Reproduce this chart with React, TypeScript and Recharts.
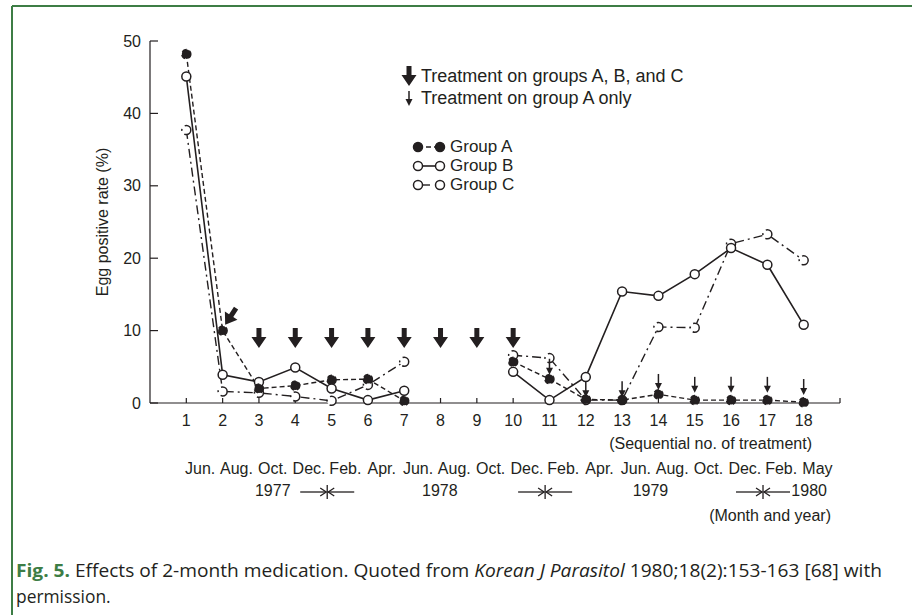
import React from "react";
import { ComposedChart, Line, Scatter, XAxis, YAxis } from "recharts";

// 治療回次ごとの虫卵陽性率 (%) — 8, 9 回目は欠測
const treatmentNo = [1, 2, 3, 4, 5, 6, 7, 8, 9, 10, 11, 12, 13, 14, 15, 16, 17, 18];
const groupA = [48.2, 10.0, 2.0, 2.4, 3.2, 3.3, 0.3, null, null, 5.7, 3.3, 0.5, 0.4, 1.2, 0.4, 0.4, 0.4, 0.1];
const groupB = [45.1, 3.9, 2.9, 4.9, 2.0, 0.4, 1.7, null, null, 4.3, 0.4, 3.6, 15.4, 14.8, 17.8, 21.4, 19.1, 10.8];
const groupC = [37.7, 1.6, 1.4, 0.9, 0.3, 2.5, 5.7, null, null, 6.6, 6.2, 0.4, 0.4, 10.5, 10.4, 22.0, 23.3, 19.7];

const yTicks = [0, 10, 20, 30, 40, 50];
const xTicks = [...treatmentNo, 19];

const monthLabels = [
  "Jun.", "Aug.", "Oct.", "Dec.", "Feb.", "Apr.", "Jun.", "Aug.", "Oct.",
  "Dec.", "Feb.", "Apr.", "Jun.", "Aug.", "Oct.", "Dec.", "Feb.", "May",
];
const MONTH_SHIFT = 0.38;
const yearLabels = ["1977", "1978", "1979", "1980"];
const yearPos = [3.38, 7.98, 13.78, 18.15];
const yearBreakPos = [4.88, 10.88, 16.88];

// 矢印 (治療)
const bigArrowNo = [3, 4, 5, 6, 7, 8, 9, 10];
const bigArrowTip = 7.6;
const tiltArrow = [{ x: 2.07, y: 10.8 }];
const smallArrowNo = [11, 12, 13, 14, 15, 16, 17, 18];
const smallArrowTip = [3.9, 0.8, 0.8, 1.8, 1.4, 1.4, 1.4, 1.1];

const FONT = '"Liberation Sans", Arial, Helvetica, sans-serif';
const INK = "#231f20";
const GREEN = "#3d7d45";

const data = treatmentNo.map((n, i) => ({ x: n, a: groupA[i], b: groupB[i], c: groupC[i] }));
const bigArrowData = bigArrowNo.map((n) => ({ x: n, y: bigArrowTip }));
const smallArrowData = smallArrowNo.map((n, i) => ({ x: n, y: smallArrowTip[i] }));

const bigArrowPath = (cx: number, cy: number) =>
  `M${cx - 2.5},${cy - 20} h5 v9 h5 L${cx},${cy} L${cx - 7.5},${cy - 11} h5 Z`;

const BigArrow = (p: any) =>
  p.cx == null ? null : <path d={bigArrowPath(p.cx, p.cy)} fill={INK} />;

const TiltArrow = (p: any) =>
  p.cx == null ? null : (
    <path d={bigArrowPath(p.cx, p.cy)} fill={INK} transform={`rotate(33 ${p.cx} ${p.cy})`} />
  );

const SmallArrow = (p: any) => {
  if (p.cx == null) return null;
  const { cx, cy } = p;
  return (
    <g>
      <line x1={cx} y1={cy - 16} x2={cx} y2={cy - 6} stroke={INK} strokeWidth={1.5} />
      <path d={`M${cx - 3.5},${cy - 7} L${cx + 3.5},${cy - 7} L${cx},${cy} Z`} fill={INK} />
    </g>
  );
};

const dot = (fill: string) => ({ r: 4.5, fill, stroke: INK, strokeWidth: 1.5 });

const YearTick = (p: any) => {
  const { x, y, payload } = p;
  const v = payload.value;
  if (yearBreakPos.indexOf(v) >= 0) {
    const cy = y + 7;
    return (
      <g stroke={INK} strokeWidth={1.3} fill="none">
        <line x1={x - 27} y1={cy} x2={x - 1} y2={cy} />
        <polyline points={`${x - 7},${cy - 4} ${x - 1},${cy} ${x - 7},${cy + 4}`} />
        <line x1={x} y1={cy - 7} x2={x} y2={cy + 7} />
        <line x1={x + 1} y1={cy} x2={x + 27} y2={cy} />
        <polyline points={`${x + 7},${cy - 4} ${x + 1},${cy} ${x + 7},${cy + 4}`} />
      </g>
    );
  }
  const label = yearLabels[yearPos.indexOf(v)];
  return (
    <text x={x} y={y} dy="0.71em" textAnchor="middle" fill={INK} fontSize={16} fontFamily={FONT}>
      {label}
    </text>
  );
};

const tickStyle = { fontSize: 16, fill: INK, fontFamily: FONT };

export default function App() {
  return (
    <div style={{ position: "fixed", left: 0, top: 0, width: 912, height: 615, background: "#fff" }}>
      <svg width={912} height={615} style={{ position: "absolute", left: 0, top: 0 }}>
        <line x1={12} y1={6} x2={912} y2={6} stroke={GREEN} strokeWidth={2} />
        <line x1={12} y1={6} x2={12} y2={615} stroke={GREEN} strokeWidth={2} />
        <text
          x={16}
          y={577}
          fontFamily='"Open Sans", sans-serif'
          fontSize={17.4}
          fill={INK}
          textLength={866}
          lengthAdjust="spacingAndGlyphs"
        >
          <tspan fontWeight={700} fill={GREEN}>Fig. 5.</tspan> Effects of 2-month medication. Quoted from{" "}
          <tspan fontStyle="italic">Korean J Parasitol</tspan> 1980;18(2):153-163 [68] with
        </text>
        <text x={16} y={603} fontFamily='"Open Sans", sans-serif' fontSize={17.4} fill={INK}>
          permission.
        </text>
      </svg>

      <div style={{ position: "absolute", left: 0, top: 0 }}>
        <ComposedChart
          width={912}
          height={540}
          data={data}
          margin={{ top: 41, right: 72, bottom: 11, left: 90 }}
        >
          <XAxis
            type="number"
            dataKey="x"
            domain={[0, 19]}
            ticks={xTicks}
            interval={0}
            tickFormatter={(v) => (v === 19 ? "" : String(v))}
            tick={tickStyle}
            tickSize={-5}
            tickMargin={17}
            height={52}
            axisLine={{ stroke: INK, strokeWidth: 1.2 }}
            tickLine={{ stroke: INK, strokeWidth: 1.2 }}
            label={(p: any) => (
              <text
                x={p.viewBox.x + p.viewBox.width - 28}
                y={p.viewBox.y + 46}
                textAnchor="end"
                fontSize={16}
                fontFamily={FONT}
                fill={INK}
              >
                (Sequential no. of treatment)
              </text>
            )}
          />
          <XAxis
            xAxisId="months"
            type="number"
            dataKey="x"
            domain={[0, 19]}
            allowDataOverflow
            ticks={treatmentNo.map((n) => n + MONTH_SHIFT)}
            interval={0}
            tickFormatter={(v) => monthLabels[Math.round(v - MONTH_SHIFT) - 1]}
            tick={tickStyle}
            tickSize={0}
            tickMargin={8}
            tickLine={false}
            axisLine={false}
            height={24}
          />
          <XAxis
            xAxisId="years"
            type="number"
            dataKey="x"
            domain={[0, 19]}
            allowDataOverflow
            ticks={[...yearPos, ...yearBreakPos]}
            interval={0}
            tick={<YearTick />}
            tickSize={0}
            tickMargin={6}
            tickLine={false}
            axisLine={false}
            height={50}
            label={(p: any) => (
              <text
                x={p.viewBox.x + p.viewBox.width - 9}
                y={p.viewBox.y + 42}
                textAnchor="end"
                fontSize={16}
                fontFamily={FONT}
                fill={INK}
              >
                (Month and year)
              </text>
            )}
          />
          <YAxis
            type="number"
            dataKey="y"
            domain={[0, 50]}
            ticks={yTicks}
            interval={0}
            width={60}
            tick={tickStyle}
            tickSize={-8}
            tickMargin={17}
            axisLine={{ stroke: INK, strokeWidth: 1.2 }}
            tickLine={{ stroke: INK, strokeWidth: 1.2 }}
            label={(p: any) => (
              <text
                x={p.viewBox.x + 12}
                y={p.viewBox.y + p.viewBox.height / 2}
                transform={`rotate(-90 ${p.viewBox.x + 12} ${p.viewBox.y + p.viewBox.height / 2})`}
                textAnchor="middle"
                dominantBaseline="central"
                fontSize={16}
                fontFamily={FONT}
                fill={INK}
              >
                Egg positive rate (%)
              </text>
            )}
          />
          <Line
            dataKey="c"
            stroke={INK}
            strokeWidth={1.4}
            strokeDasharray="9 4 2 4"
            dot={dot("#fff")}
            activeDot={false}
            isAnimationActive={false}
          />
          <Line
            dataKey="b"
            stroke={INK}
            strokeWidth={1.6}
            dot={dot("#fff")}
            activeDot={false}
            isAnimationActive={false}
          />
          <Line
            dataKey="a"
            stroke={INK}
            strokeWidth={1.4}
            strokeDasharray="5 3"
            dot={dot(INK)}
            activeDot={false}
            isAnimationActive={false}
          />
          <Scatter data={bigArrowData} shape={BigArrow} isAnimationActive={false} />
          <Scatter data={tiltArrow} shape={TiltArrow} isAnimationActive={false} />
          <Scatter data={smallArrowData} shape={SmallArrow} isAnimationActive={false} />
        </ComposedChart>
      </div>

      {/* 凡例 */}
      <div style={{ position: "absolute", left: 0, top: 0, fontFamily: FONT, fontSize: 17, color: INK }}>
        <svg width={912} height={200} style={{ position: "absolute", left: 0, top: 0 }}>
          <path d={bigArrowPath(409, 86)} fill={INK} />
          <line x1={409} y1={91} x2={409} y2={100} stroke={INK} strokeWidth={1.5} />
          <path d="M405.5,99 L412.5,99 L409,106 Z" fill={INK} />
          <line x1={418} y1={147} x2={440} y2={147} stroke={INK} strokeWidth={1.4} strokeDasharray="5 3" />
          <circle cx={418} cy={147} r={4.5} fill={INK} stroke={INK} strokeWidth={1.5} />
          <circle cx={440} cy={147} r={4.5} fill={INK} stroke={INK} strokeWidth={1.5} />
          <line x1={418} y1={166} x2={440} y2={166} stroke={INK} strokeWidth={1.6} />
          <circle cx={418} cy={166} r={4.5} fill="#fff" stroke={INK} strokeWidth={1.5} />
          <circle cx={440} cy={166} r={4.5} fill="#fff" stroke={INK} strokeWidth={1.5} />
          <line x1={418} y1={185} x2={430} y2={185} stroke={INK} strokeWidth={1.4} />
          <circle cx={418} cy={185} r={4.5} fill="#fff" stroke={INK} strokeWidth={1.5} />
          <circle cx={440} cy={185} r={4.5} fill="#fff" stroke={INK} strokeWidth={1.5} />
        </svg>
        {[
          { t: "Treatment on groups A, B, and C", x: 421, y: 76, fs: 18 },
          { t: "Treatment on group A only", x: 421, y: 98, fs: 18 },
          { t: "Group A", x: 450, y: 147, fs: 17 },
          { t: "Group B", x: 450, y: 166, fs: 17 },
          { t: "Group C", x: 450, y: 185, fs: 17 },
        ].map((r) => (
          <div
            key={r.t}
            style={{
              position: "absolute",
              left: r.x,
              top: r.y - 9,
              fontSize: r.fs,
              lineHeight: "18px",
              whiteSpace: "nowrap",
            }}
          >
            {r.t}
          </div>
        ))}
      </div>
    </div>
  );
}
